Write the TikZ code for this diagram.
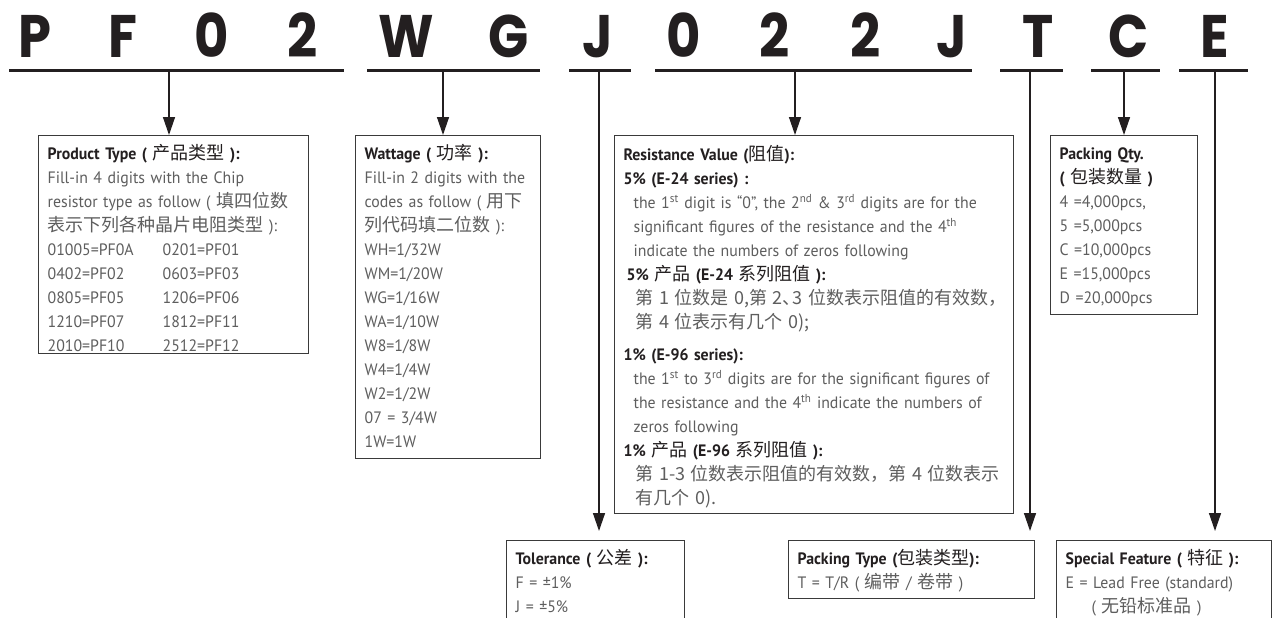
\documentclass[tikz,border=0pt]{standalone}
\usepackage{fontspec}
\setmainfont{PT Sans}[FakeStretch = 0.96]
\newfontfamily\cjk{Noto Sans CJK SC}
\newfontfamily\codefont{Poppins}
\usetikzlibrary{arrows.meta}

\definecolor{ink}{HTML}{231F20}
\definecolor{boxline}{HTML}{3A3A3A}
\definecolor{bodytext}{HTML}{5E5E5E}

\newcommand{\zh}[1]{{\cjk\mdseries\fontsize{18}{24}\selectfont #1}}
\newcommand{\hd}[1]{\leavevmode{\bfseries\color{ink}#1}}
\newcommand{\halfpunct}[1]{\makebox[0.55em][l]{#1}}

\tikzset{
	letter/.style = {anchor = base, inner sep = 0pt, text = ink, font = \codefont\bfseries\fontsize{60}{60}\selectfont},
	bar/.style = {line width = 3pt, draw = ink},
	pointer/.style = {-{Triangle[length = 18pt, width = 12pt]}, line width = 1.4pt, draw = ink},
	infobox/.style = {draw = boxline, line width = 1.3pt, anchor = north west, align = left, inner xsep = 9pt, inner ysep = 0pt, text height = 24pt, text = bodytext, font = \fontsize{16.5}{24}\selectfont}
}

\begin{document}
\begin{tikzpicture}[x = 1pt, y = -1pt]
	\clip (0, 0) rectangle (1272, 618);
	\fill[white] (0, 0) rectangle (1272, 618);

	\foreach \x/\c [count = \i] in {35/P, 123/F, 212/0, 303/2, 406/W, 509/G, 598/J, 684/0, 775/2, 866/2, 952/J, 1038/T, 1129/C, 1215/E}
		\node[letter] (c\i) at (\x, 58) {\scalebox{0.88}[1]{\c}};
	\foreach \a/\b in {9/344, 367/540, 569/631, 655/972, 1000/1063, 1091/1160, 1179/1248}
		\draw[bar] (\a, 71) -- (\b, 71);

	\coordinate (sType) at (169, 71);
	\coordinate (sWatt) at (443, 71);
	\coordinate (sTol) at (599, 71);
	\coordinate (sRes) at (795, 71);
	\coordinate (sPack) at (1030, 71);
	\coordinate (sQty) at (1124, 71);
	\coordinate (sFeat) at (1215, 71);

	\node[infobox, text width = 252pt, text depth = 194pt] (type) at (38, 135) {\hd{Product Type ( \zh{产品类型} ):}\\
		Fill-in 4 digits with the Chip\\
		resistor type as follow ( \zh{填四位数}\\
		\zh{表示下列各种晶片电阻类型} ):\\
		\makebox[115pt][l]{01005=PF0A}0201=PF01\\
		\makebox[115pt][l]{0402=PF02}0603=PF03\\
		\makebox[115pt][l]{0805=PF05}1206=PF06\\
		\makebox[115pt][l]{1210=PF07}1812=PF11\\
		\makebox[115pt][l]{2010=PF10}2512=PF12};

	\node[infobox, text width = 167pt, text depth = 299pt] (watt) at (355, 135) {\hd{Wattage ( \zh{功率} ):}\\
		Fill-in 2 digits with the\\
		codes as follow ( \zh{用下}\\
		\zh{列代码填二位数} ):\\
		WH=1/32W\\ WM=1/20W\\ WG=1/16W\\ WA=1/10W\\ W8=1/8W\\ W4=1/4W\\ W2=1/2W\\ 07 = 3/4W\\ 1W=1W};

	\node[infobox, text width = 381pt, text height = 25pt, text depth = 353pt] (res) at (614, 135) {\hd{Resistance Value (\zh{阻值}):}\\
		\hd{5\% (E-24 series) :}\\
		\hspace*{10pt}the 1\textsuperscript{st} digit is “0”, the 2\textsuperscript{nd} \& 3\textsuperscript{rd} digits are for the\\
		\hspace*{10pt}significant figures of the resistance and the 4\textsuperscript{th}\\
		\hspace*{10pt}indicate the numbers of zeros following\\
		\hspace*{3pt}\hd{5\% \zh{产品} (E-24 \zh{系列阻值} ):}\\
		\hspace*{12pt}\mbox{\zh{第 1 位数是 0,第 2\halfpunct{、}3 位数表示阻值的有效数，}}\\
		\hspace*{12pt}\zh{第 4 位表示有几个 0);}\\[8pt]
		\hd{1\% (E-96 series):}\\
		\hspace*{10pt}the 1\textsuperscript{st} to 3\textsuperscript{rd} digits are for the significant figures of\\
		\hspace*{10pt}the resistance and the 4\textsuperscript{th} indicate the numbers of\\
		\hspace*{10pt}zeros following\\
		\hd{1\% \zh{产品} (E-96 \zh{系列阻值} ):}\\
		\hspace*{12pt}\mbox{\zh{第 1-3 位数表示阻值的有效数，第 4 位数表示}}\\
		\hspace*{12pt}\zh{有几个 0).}};

	\node[infobox, text width = 129pt, text depth = 155pt] (qty) at (1050, 135) {\hd{Packing Qty.}\\
		\hd{( \zh{包装数量} )}\\
		4 =4,000pcs,\\ 5 =5,000pcs\\ C =10,000pcs\\ E =15,000pcs\\ D =20,000pcs};

	\node[infobox, text width = 160pt, text depth = 100pt] (tol) at (506, 540) {\hd{Tolerance ( \zh{公差} ):}\\
		F = ±1\%\\ J = ±5\%};
	\node[infobox, text width = 228pt, text depth = 34pt] (pack) at (788, 540) {\hd{Packing Type (\zh{包装类型}):}\\
		T = T/R ( \zh{编带} / \zh{卷带} )};
	\node[infobox, text width = 197pt, text depth = 100pt] (feat) at (1056, 540) {\hd{Special Feature ( \zh{特征} ):}\\
		E = Lead Free (standard)\\
		\hspace*{26pt}( \zh{无铅标准品} )};

	\draw[pointer] (sType) -- (sType |- type.north);
	\draw[pointer] (sWatt) -- (sWatt |- watt.north);
	\draw[pointer] (sRes) -- (sRes |- res.north);
	\draw[pointer] (sQty) -- (sQty |- qty.north);
	\draw[pointer, shorten > = 9pt] (sTol) -- (sTol |- tol.north);
	\draw[pointer, shorten > = 9pt] (sPack) -- (sPack |- pack.north);
	\draw[pointer, shorten > = 9pt] (sFeat) -- (sFeat |- feat.north);
\end{tikzpicture}
\end{document}
